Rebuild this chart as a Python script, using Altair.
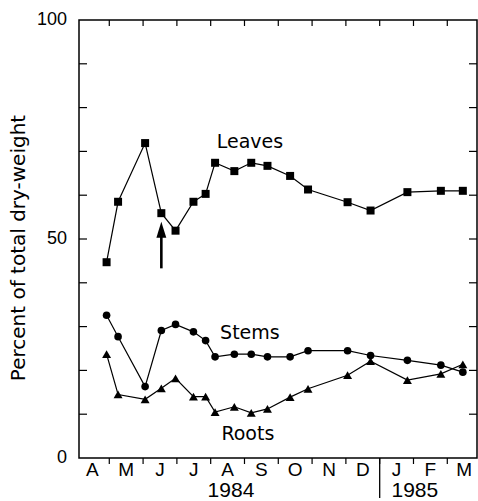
import altair as alt
import pandas as pd

# sampling dates as month index (0 = 1 April 1984)
dates = [0.92, 1.26, 2.06, 2.54, 2.96, 3.49, 3.85, 4.13, 4.70, 5.20, 5.68,
         6.35, 6.88, 8.05, 8.73, 9.82, 10.81, 11.46]
leaves = [44.7, 58.5, 71.9, 55.9, 51.9, 58.5, 60.3, 67.4, 65.5, 67.4, 66.7,
          64.4, 61.3, 58.4, 56.5, 60.7, 61.0, 61.0]
stems = [32.6, 27.7, 16.3, 29.1, 30.5, 28.8, 26.8, 23.1, 23.7, 23.7, 23.1,
         23.1, 24.5, 24.5, 23.4, 22.3, 21.2, 19.6]
roots = [23.7, 14.5, 13.4, 15.9, 18.2, 14.0, 14.0, 10.5, 11.7, 10.3, 11.2,
         13.9, 15.8, 18.9, 22.1, 17.8, 19.2, 21.4]
organs = ["Leaves", "Stems", "Roots"]
organ_label_x = [5.16, 5.16, 5.10]
organ_label_y = [72.2, 28.6, 5.5]

month_letters = ["A", "M", "J", "J", "A", "S", "O", "N", "D", "J", "F", "M"]
month_bounds = [1, 2, 3, 4, 5, 6, 7, 8, 9, 10, 11]
year_break = [9]
years = ["1984", "1985"]
year_pos = [4.6, 10.04]
y_minor = [10, 20, 30, 40, 50, 60, 70, 80, 90]
y_labels = [0, 50, 100]

arrow_x = [dates[3]]
arrow_tail = [43.3]
arrow_shaft_top = [50.5]
arrow_head = [52.1]

W, H = 398, 438
XD = [0.104, 11.879]
xs = alt.Scale(domain=XD, nice=False, zero=False)
ys = alt.Scale(domain=[0, 100], nice=False, zero=True)

rows = []
for name, vals in zip(organs, [leaves, stems, roots]):
    for d, v in zip(dates, vals):
        rows.append({"m": d, "v": v, "organ": name})
df = pd.DataFrame(rows)

base = alt.Chart(df)

lines = base.mark_line(color="black", strokeWidth=1.2).encode(
    x=alt.X("m:Q", scale=xs, axis=None),
    y=alt.Y("v:Q", scale=ys, axis=None),
    detail="organ:N",
)

shapes = {"Leaves": ("square", 64), "Stems": ("circle", 58), "Roots": ("triangle-up", 80)}
point_layers = []
for name in organs:
    shp, sz = shapes[name]
    point_layers.append(
        base.transform_filter(alt.datum.organ == name)
        .mark_point(filled=True, opacity=1, color="black", shape=shp, size=sz)
        .encode(x=alt.X("m:Q", scale=xs, axis=None),
                y=alt.Y("v:Q", scale=ys, axis=None))
    )

tick_df = pd.DataFrame({"v": y_minor})
left_ticks = alt.Chart(tick_df).mark_rule(color="black", strokeWidth=1.2).encode(
    y=alt.Y("v:Q", scale=ys, axis=None), x=alt.value(0), x2=alt.value(8))
right_ticks = alt.Chart(tick_df).mark_rule(color="black", strokeWidth=1.2).encode(
    y=alt.Y("v:Q", scale=ys, axis=None), x=alt.value(W - 8), x2=alt.value(W))

ylab_df = pd.DataFrame({"v": y_labels, "t": [str(v) for v in y_labels]})
y_text = alt.Chart(ylab_df).mark_text(
    font="Liberation Sans", fontSize=18, color="black", baseline="middle",
    align="right").encode(
    y=alt.Y("v:Q", scale=ys, axis=None), x=alt.value(-12), text="t:N")

mb_df = pd.DataFrame({"m": month_bounds})
top_ticks = alt.Chart(mb_df).mark_rule(color="black", strokeWidth=1.2).encode(
    x=alt.X("m:Q", scale=xs, axis=None), y=alt.value(0), y2=alt.value(6))
bottom_ticks = alt.Chart(mb_df).mark_rule(color="black", strokeWidth=1.2).encode(
    x=alt.X("m:Q", scale=xs, axis=None), y=alt.value(H), y2=alt.value(H + 6))
year_rule = alt.Chart(pd.DataFrame({"m": year_break})).mark_rule(
    color="black", strokeWidth=1.3).encode(
    x=alt.X("m:Q", scale=xs, axis=None), y=alt.value(H), y2=alt.value(H + 40))

month_df = pd.DataFrame({"m": [i + 0.5 for i in range(12)], "t": month_letters})
month_text = alt.Chart(month_df).mark_text(
    font="Liberation Sans", fontSize=19, color="black", baseline="middle",
    align="center").encode(
    x=alt.X("m:Q", scale=xs, axis=None), y=alt.value(H + 12), text="t:N")

year_df = pd.DataFrame({"m": year_pos, "t": years})
year_text = alt.Chart(year_df).mark_text(
    font="Liberation Sans", fontSize=21, color="black", baseline="middle",
    align="center").encode(
    x=alt.X("m:Q", scale=xs, axis=None), y=alt.value(H + 33), text="t:N")

lab_df = pd.DataFrame({"m": organ_label_x, "v": organ_label_y, "t": organs})
organ_text = alt.Chart(lab_df).mark_text(
    font="DejaVu Sans", fontSize=19, color="black", baseline="middle",
    align="center").encode(
    x=alt.X("m:Q", scale=xs, axis=None), y=alt.Y("v:Q", scale=ys, axis=None),
    text="t:N")

ytitle = alt.Chart(pd.DataFrame({"t": ["Percent of total dry-weight"]})).mark_text(
    font="DejaVu Sans", fontSize=20, color="black", angle=270, baseline="middle",
    align="center").encode(x=alt.value(-60), y=alt.value(228), text="t:N")

arrow_df = pd.DataFrame({"m": arrow_x, "a": arrow_tail, "b": arrow_shaft_top,
                         "h": arrow_head})
arrow_shaft = alt.Chart(arrow_df).mark_rule(color="black", strokeWidth=2.6).encode(
    x=alt.X("m:Q", scale=xs, axis=None), y=alt.Y("a:Q", scale=ys, axis=None),
    y2="b:Q")
arrow_tip = alt.Chart(arrow_df).mark_point(
    filled=True, opacity=1, color="black", strokeWidth=0,
    shape="M0,-1L0.62,1L-0.62,1Z", size=256).encode(
    x=alt.X("m:Q", scale=xs, axis=None), y=alt.Y("h:Q", scale=ys, axis=None))

chart = alt.layer(
    lines, *point_layers, left_ticks, right_ticks, y_text, top_ticks, bottom_ticks,
    year_rule, month_text, year_text, organ_text, ytitle, arrow_shaft, arrow_tip
).properties(
    width=W, height=H,
    autosize="none",
    padding={"left": 79, "top": 20, "right": 1, "bottom": 43},
    background="white",
).configure_view(stroke="black", strokeWidth=1.5)

chart.save("out.html", embed_options={"renderer": "svg", "actions": False})
